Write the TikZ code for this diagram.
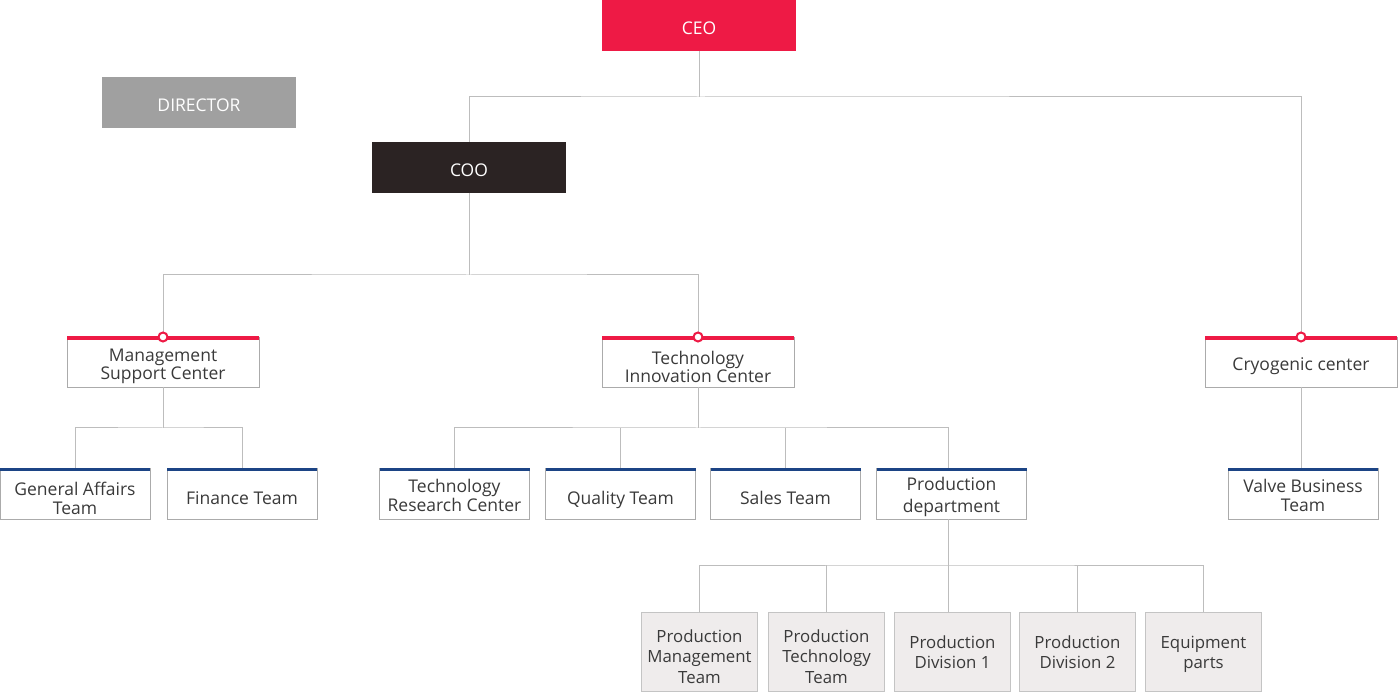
\documentclass[tikz,border=0pt]{standalone}
\usepackage{fontspec}
\setmainfont{Open Sans}
\usetikzlibrary{positioning}
\definecolor{ceored}{HTML}{EE1A45}
\definecolor{cooblack}{HTML}{2B2323}
\definecolor{dirgrey}{HTML}{A0A0A0}
\definecolor{navy}{HTML}{1C4485}
\definecolor{wire}{HTML}{BDBDBD}
\definecolor{frame}{HTML}{ABABAB}
\definecolor{ink}{HTML}{3A3A3A}
\definecolor{pale}{HTML}{EFECEC}
\newcommand{\lbldrop}{4pt}
\newcommand{\lbl}[1]{\raisebox{-\lbldrop}[\height][\depth]{\begin{tabular}{@{}c@{}}#1\end{tabular}}}

\begin{document}
\begin{tikzpicture}[x=1pt, y=-1pt,
  font=\fontsize{17.5}{18.5}\selectfont,
  drop/.style={execute at begin node={\renewcommand{\lbldrop}{#1}}},
  exec/.style={minimum width=194pt, minimum height=51pt, inner sep=0pt, outer sep=0pt, text=white, drop=5pt},
  hub/.style={draw=frame, fill=white, minimum width=192pt, minimum height=50pt, inner sep=0pt, outer sep=0pt, text=ink, drop=5pt},
  team/.style={draw=frame, fill=white, minimum width=150pt, minimum height=51pt, inner sep=0pt, outer sep=0pt, text=ink, drop=7.5pt},
  unit/.style={draw=frame!70, fill=pale, minimum width=116pt, minimum height=79pt, inner sep=0pt, outer sep=0pt, text=ink, drop=7pt, font=\fontsize{16.8}{20.5}\selectfont},
  link/.style={draw=wire, line width=1pt},
  redbar/.style={ceored, line width=4pt},
  navybar/.style={navy, line width=3pt},
  dot/.style={draw=ceored, fill=white, line width=2pt}
]
\useasboundingbox (0,0) rectangle (1398,692);

% top level
\node[exec, fill=ceored] (ceo) at (699,25.5) {\lbl{CEO}};
\node[exec, fill=dirgrey] (director) at (199,102.5) {\lbl{DIRECTOR}};
\node[exec, fill=cooblack] (coo) at (469,167.5) {\lbl{COO}};

% centers
\node[hub] (msc) at (163,362) {\lbl{Management\\Support Center}};
\node[hub, drop=7.5pt] (tic) at (698,362) {\lbl{Technology\\Innovation Center}};
\node[hub] (cryo) at (1301,362) {\lbl{Cryogenic center}};

% teams
\node[team] (ga) at (75,493.5) {\lbl{General Affairs\\Team}};
\node[team, right=17pt of ga] (fin) {\lbl{Finance Team}};
\node[team, drop=4.5pt] (trc) at (454.5,493.5) {\lbl{Technology\\Research Center}};
\node[team, right=16pt of trc] (qual) {\lbl{Quality Team}};
\node[team, right=15pt of qual] (sales) {\lbl{Sales Team}};
\node[team, right=16pt of sales, drop=4.5pt] (prod) {\lbl{Production\\[3pt]department}};
\node[team, drop=4.5pt] (valve) at (1303,493.5) {\lbl{Valve Business\\Team}};

% production units
\node[unit] (pmt) at (699.5,651.5) {\lbl{Production\\Management\\Team}};
\node[unit, right=11pt of pmt] (ptt) {\lbl{Production\\Technology\\Team}};
\node[unit, right=10pt of ptt, drop=3pt] (pd1) {\lbl{Production\\Division 1}};
\node[unit, right=9pt of pd1, drop=3pt] (pd2) {\lbl{Production\\Division 2}};
\node[unit, right=10pt of pd2, drop=3pt] (parts) {\lbl{Equipment\\parts}};

% connectors
\draw[link] (ceo.south) -- ++(0,46) coordinate (ceobus);
\draw[link] (coo.north) |- (ceobus) -| (cryo.north);
\draw[link] (coo.south) -- ++(0,82) coordinate (coobus);
\draw[link] (msc.north) |- (coobus) -| (tic.north);
\draw[link] (msc.south) -- ++(0,41) coordinate (mscbus);
\draw[link] (ga.north) |- (mscbus) -| (fin.north);
\draw[link] (tic.south) -- ++(0,41) coordinate (ticbus);
\draw[link] (trc.north) |- (ticbus) -| ([xshift=-3pt]prod.north);
\draw[link] (qual.north) -- (qual.north |- ticbus);
\draw[link] (sales.north) -- (sales.north |- ticbus);
\draw[link] (cryo.south) -- (cryo.south |- valve.north);
\draw[link] ([xshift=-3pt]prod.south) -- ++(0,46) coordinate (prodbus);
\draw[link] (pmt.north) |- (prodbus) -| (parts.north);
\draw[link] (prodbus) -- (prodbus |- pd1.north);
\foreach \n in {ptt,pd2}
  \draw[link] (\n.north) -- (\n.north |- prodbus);

% bars on top
\foreach \n in {msc,tic,cryo} {
  \draw[redbar] ([yshift=-1.5pt]\n.north west) -- ([yshift=-1.5pt]\n.north east);
  \draw[dot] (\n.north) circle[radius=4.5pt];
}
\foreach \n in {ga,fin,trc,qual,sales,prod,valve}
  \draw[navybar] ([yshift=-1pt]\n.north west) -- ([yshift=-1pt]\n.north east);
\end{tikzpicture}
\end{document}
